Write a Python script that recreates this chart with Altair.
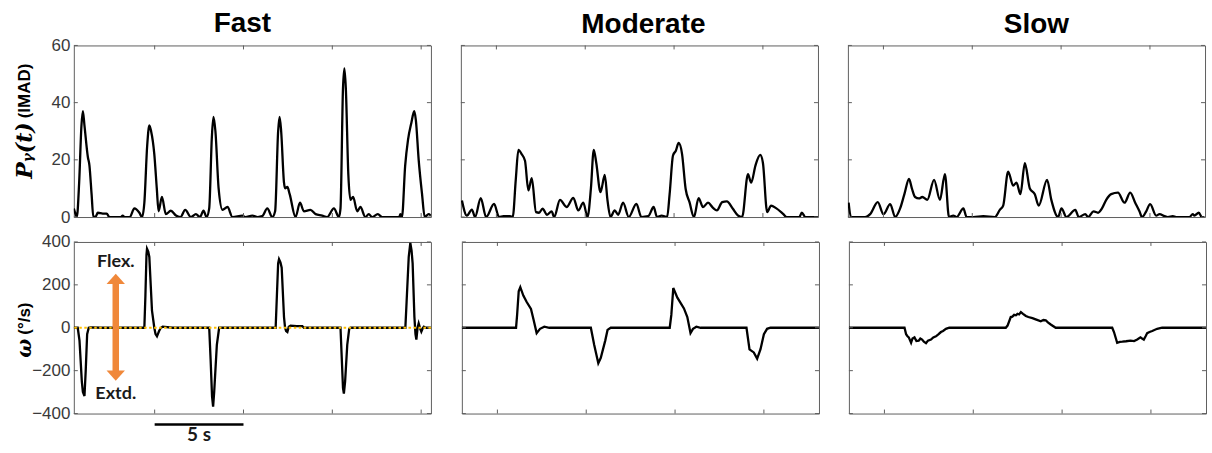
import altair as alt
import pandas as pd

# ---------------- data ----------------
# time windows (s) shown for each speed
FAST_DOMAIN = [0.45, 20.55]
SLOW_DOMAIN = [3.0, 23.1]
X_TICKS = [5, 10, 15, 20]

P_DOMAIN = [0, 60]
P_TICKS = [0, 20, 40, 60]
W_DOMAIN = [-400, 400]
W_TICKS = [-400, -200, 0, 200, 400]

SPEEDS = ["Fast", "Moderate", "Slow"]

# gamma-band power P_gamma(t), IMAD
fast_p_t = [0.45, 0.55, 0.62, 0.75, 0.88, 0.96, 1.05, 1.24, 1.33, 1.45, 1.55, 1.70, 1.80, 2.08, 2.30, 2.45,
            3.11, 3.20, 3.30, 3.60, 3.86, 4.14, 4.29, 4.42, 4.58, 4.70, 4.80, 4.98, 5.12, 5.22, 5.41, 5.63,
            5.91, 6.20, 6.45, 6.72, 7.04, 7.32, 7.55, 7.75, 7.92, 8.07, 8.22, 8.31, 8.42, 8.60, 8.82, 9.10,
            9.38, 9.94, 10.10, 10.50, 10.80, 11.06, 11.34, 11.62, 11.78, 11.95, 12.03, 12.12, 12.28, 12.34,
            12.47, 12.60, 12.93, 13.18, 13.40, 13.77, 14.06, 14.43, 14.71, 15.09, 15.37, 15.46, 15.60, 15.68,
            15.76, 15.90, 16.02, 16.17, 16.40, 16.58, 16.86, 17.05, 17.24, 17.56, 17.80, 18.77, 18.83, 18.88,
            18.92, 19.10, 19.26, 19.45, 19.61, 19.70, 19.86, 20.05, 20.20, 20.42, 20.55]
fast_p_v = [3, 1, 0, 12, 32, 37, 32, 21, 18, 8, 0, 0.3, 1.5, 1.2, 1.2, 0,
            0, 0.5, 0, 0, 3, 1.5, 0, 5, 25, 32, 30, 22, 10, 2, 7, 1,
            2.2, 0.5, 0, 2.5, 0, 1, 0, 2.2, 0, 3, 28, 35, 30, 10, 2.5, 3.5,
            0, 0.5, 0, 0.5, 0, 0.3, 3, 0, 2, 30, 35, 30, 12, 10,
            10.5, 8, 0, 5, 2, 2.5, 1, 0.5, 0, 3, 0, 3, 45, 52,
            45, 15, 6, 7, 2, 3.5, 0, 1, 0, 1, 0, 0, 1, 0,
            0, 18, 27, 33, 37, 34, 20, 8, 0, 1, 0.5]

mod_p_t = [3.06, 3.34, 3.62, 3.80, 4.12, 4.42, 4.87, 5.15, 5.40, 5.77,
           5.92, 6.09, 6.24, 6.42, 6.61, 6.80, 6.99, 7.23, 7.40, 7.60,
           7.85, 8.11, 8.25, 8.58, 8.95, 9.33, 9.61, 9.89, 10.13, 10.32,
           10.48, 10.62, 10.86, 11.10, 11.25, 11.42, 11.66, 11.85, 12.13, 12.45,
           12.88, 13.16, 13.55, 13.85, 14.04, 14.30, 14.61, 14.75, 14.94, 15.10,
           15.26, 15.45, 15.65, 15.87, 16.12, 16.38, 16.63, 16.91, 17.19, 17.41,
           17.71, 17.97, 18.31, 18.59, 18.83, 19.16, 19.34, 19.58, 19.85, 20.00,
           20.24, 20.46, 20.74, 21.12, 21.34, 22.05, 22.19, 22.39, 23.10]
mod_p_v = [5.8, 0.5, 2.6, 0, 6.6, 0, 4.6, 0, 0.3, 0.3,
           0, 13, 23.5, 22, 19.7, 9.3, 13.6, 1.7, 1.5, 2.9,
           0.8, 2, 0, 6, 3.5, 6.7, 2.3, 5, 0, 10,
           23.5, 19, 8.7, 14.7, 6, 0, 2.3, 0.8, 5, 0,
           4.6, 0, 0.3, 3.5, 0, 0.5, 0, 8, 21.5, 23.2,
           25.9, 22, 9.9, 5.2, 0, 6.6, 3.5, 5, 3.2, 2.3,
           5.2, 5.5, 2.9, 0.6, 0, 15, 12, 18, 21.7, 19,
           1.7, 4, 3.1, 1.2, 0, 0, 1.5, 0, 0]

slow_p_t = [3.04, 3.17, 3.97, 4.25, 4.68, 5.00, 5.38, 5.66, 5.94, 6.18,
            6.44, 6.60, 6.78, 7.00, 7.19, 7.47, 7.85, 8.18, 8.46, 8.69,
            8.93, 9.12, 9.50, 9.68, 10.06, 10.62, 11.27, 11.55, 11.74, 12.02,
            12.30, 12.49, 12.71, 12.96, 13.24, 13.52, 13.74, 14.21, 14.45, 14.83,
            15.02, 15.30, 15.80, 15.99, 16.36, 16.52, 16.83, 17.08, 17.30, 17.54,
            17.82, 18.20, 18.57, 18.89, 19.17, 19.41, 19.55, 19.79, 20.01, 20.35,
            20.54, 20.82, 21.01, 21.29, 21.47, 22.22, 22.41, 22.50, 22.75, 22.92,
            23.06]
slow_p_v = [5, 0, 0, 1, 5.2, 1, 4.5, 0, 3, 8,
            13.3, 10, 7, 6.5, 7, 6, 13, 6, 15, 0,
            0.5, 0, 3, 0, 0, 0.3, 0, 2.5, 4, 15.9,
            11, 12, 8, 18.8, 10, 8, 4, 13, 6, 0,
            3, 0, 2.5, 0, 1, 0, 2, 1.5, 3, 6,
            8, 8.5, 5, 8.5, 5, 2, 0, 2, 4.5, 0.5,
            1, 0.3, 0, 0.3, 0, 0, 1, 0.5, 1.5, 0,
            0]

# angular velocity omega, deg/s
fast_w_t = [0.45, 0.67, 0.77, 0.90, 0.96, 1.05, 1.12, 1.20, 1.29, 1.40, 2.00,
            4.42, 4.48, 4.54, 4.57, 4.64, 4.70, 4.85, 4.98, 5.05, 5.13, 5.25, 5.35, 5.45, 6.00,
            8.07, 8.15, 8.23, 8.29, 8.35, 8.50, 8.63,
            11.81, 11.88, 11.95, 12.00, 12.08, 12.15, 12.28, 12.34, 12.40, 12.47, 12.55, 12.65, 13.00,
            13.31, 13.40,
            15.46, 15.52, 15.60, 15.65, 15.72, 15.84, 15.95, 16.02,
            19.11, 19.18, 19.30, 19.39, 19.46, 19.52, 19.62, 19.68, 19.73, 19.80, 19.86, 19.95, 20.01,
            20.10, 20.15, 20.25, 20.55]
fast_w_v = [0, 0, -60, -250, -300, -318, -200, -30, 0, 2, 0,
            0, 150, 340, 368, 355, 330, 80, 0, -30, -40, -15, 0, 5, 0,
            0, -150, -320, -368, -300, -80, 0,
            0, 150, 300, 320, 305, 280, 50, 0, -15, -20, 5, 10, 8,
            8, 0,
            0, -120, -280, -307, -250, -80, -5, 0,
            0, 120, 330, 396, 360, 300, 50, -30, -55, 0, 20, -5, -18,
            0, 5, 0, 0]

mod_w_t = [3.0, 6.05, 6.11, 6.20, 6.29, 6.46, 6.65, 6.89, 7.03, 7.21,
           7.40, 7.64, 7.92, 10.26, 10.45, 10.68, 10.82, 11.07, 11.20, 11.38,
           14.70, 14.79, 14.90, 15.13, 15.50, 15.69, 15.87, 16.01, 16.20, 16.44,
           19.02, 19.19, 19.43, 19.62, 19.81, 20.00, 20.18, 20.37, 23.10]
mod_w_v = [0, 0, 60, 170, 189, 150, 120, 88, 40, -25,
           -5, 5, 0, 0, -80, -165, -140, -60, -10, 0,
           0, 60, 185, 140, 90, 50, -25, -5, 5, 0,
           0, -101, -115, -144, -100, -30, -5, 0, 0]

slow_w_t = [3.0, 6.13, 6.22, 6.30, 6.37, 6.50, 6.58, 6.69, 6.80, 6.93, 7.02, 7.12, 7.22, 7.34, 7.45,
            7.62, 7.75, 7.90, 8.05, 8.18, 8.30, 8.46, 8.65,
            11.83, 11.93, 12.11, 12.20, 12.30, 12.40, 12.49, 12.58, 12.68, 12.80, 12.96, 13.10, 13.33,
            13.55, 13.80, 13.95, 14.08, 14.20, 14.36, 14.64,
            17.82, 17.92, 18.10, 18.25, 18.39, 18.60, 18.85, 19.05, 19.23, 19.41, 19.50, 19.60, 19.70,
            19.79, 19.92, 20.07, 20.35, 20.63, 23.10]
slow_w_v = [0, 0, -30, -40, -45, -70, -50, -45, -62, -60, -50, -55, -65, -72, -60,
            -55, -45, -40, -30, -20, -15, -5, 0,
            0, 10, 50, 52, 60, 58, 65, 62, 73, 65, 55, 50, 45,
            38, 30, 36, 35, 25, 15, 0,
            0, -20, -70, -66, -65, -63, -60, -62, -55, -45, -50, -55, -40,
            -25, -20, -15, -5, 0, 0]

# flexion / extension annotation (fast panel)
ARROW_T = 2.81
ARROW_HEADS = [228, -223]
ARROW_SHAFT = [-215, 220]
DIR_LABELS = ["Flex.", "Extd."]
DIR_LABEL_V = [284, -330]
SCALE_BAR = [5, 10]
SCALE_LABEL = "5 s"

# ---------------- styling ----------------
W, H = 358, 172
TICK = 4
FRAME = "#5f5f5f"
ORANGE = "#F0883A"
GOLD = "#FFC000"
LABEL_FONT = "Liberation Sans"
ANNOT_FONT = "Lato"
UP_PATH = "M-1,0.55L0,-0.55L1,0.55Z"
DOWN_PATH = "M-1,-0.55L0,0.55L1,-0.55Z"


def x_enc(dom):
    return alt.X("t:Q", scale=alt.Scale(domain=dom, nice=False, zero=False), axis=None)


def y_enc(dom, axis):
    return alt.Y("v:Q", scale=alt.Scale(domain=dom, nice=False, zero=False), axis=axis)


def panel(t, v, xdom, ydom, yticks, interp, left=False, title=None, title_dx=0, title_offset=6, extras=()):
    if left:
        axis = alt.Axis(values=yticks, ticks=False, tickSize=0, domain=False, grid=False,
                        labelPadding=4, title=None, labelFont=LABEL_FONT, labelFontSize=17,
                        labelColor="#3a3a3a")
    else:
        axis = None
    xe = x_enc(xdom)
    ye = y_enc(ydom, axis)

    line = alt.Chart(pd.DataFrame({"t": t, "v": v})).mark_line(
        color="black", strokeWidth=2.3, interpolate=interp, clip=True
    ).encode(x=xe, y=ye)

    ytk = pd.DataFrame({"v": yticks})
    xtk = pd.DataFrame({"t": X_TICKS})
    ticks = [
        alt.Chart(ytk).mark_rule(color=FRAME, strokeWidth=1).encode(y=ye, x=alt.value(0), x2=alt.value(TICK)),
        alt.Chart(ytk).mark_rule(color=FRAME, strokeWidth=1).encode(y=ye, x=alt.value(W - TICK), x2=alt.value(W)),
        alt.Chart(xtk).mark_rule(color=FRAME, strokeWidth=1).encode(x=xe, y=alt.value(0), y2=alt.value(TICK)),
        alt.Chart(xtk).mark_rule(color=FRAME, strokeWidth=1).encode(x=xe, y=alt.value(H - TICK), y2=alt.value(H)),
    ]
    layers = [line] + ticks + [e(xe, ye) for e in extras]
    props = dict(width=W, height=H)
    if title:
        props["title"] = alt.TitleParams(title, fontSize=28, font=LABEL_FONT, fontWeight="bold",
                                         color="black", anchor="middle", frame="group",
                                         offset=title_offset, dx=title_dx)
    return alt.layer(*layers).properties(**props)


one = pd.DataFrame({"a": [0]})


def p_title(xe, ye):
    math = alt.Chart(one).mark_text(text="Pᵧ(t)", angle=270, align="right", baseline="middle",
                                    font="DejaVu Serif", fontStyle="italic", fontWeight="bold",
                                    fontSize=22, color="black").encode(x=alt.value(-49), y=alt.value(77))
    unit = alt.Chart(one).mark_text(text="(IMAD)", angle=270, align="left", baseline="middle",
                                    font=LABEL_FONT, fontWeight="bold", fontSize=17,
                                    color="black").encode(x=alt.value(-49), y=alt.value(73))
    return alt.layer(math, unit)


def w_title(xe, ye):
    sym = alt.Chart(one).mark_text(text="ω", angle=270, align="right", baseline="middle",
                                   font="DejaVu Serif", fontStyle="italic", fontWeight="bold",
                                   fontSize=20, color="black").encode(x=alt.value(-49), y=alt.value(97))
    unit = alt.Chart(one).mark_text(text="(°/s)", angle=270, align="left", baseline="middle",
                                    font=LABEL_FONT, fontWeight="bold", fontSize=17,
                                    color="black").encode(x=alt.value(-49), y=alt.value(93))
    return alt.layer(sym, unit)


def zero_line(xe, ye):
    return alt.Chart(pd.DataFrame({"v": [0]})).mark_rule(
        color=GOLD, strokeDash=[2.5, 2.5], strokeWidth=2.2
    ).encode(y=ye)


def flex_arrow(xe, ye):
    shaft = alt.Chart(pd.DataFrame({"t": [ARROW_T], "v": [ARROW_SHAFT[0]], "v2": [ARROW_SHAFT[1]]})).mark_rule(
        color=ORANGE, strokeWidth=6.5
    ).encode(x=xe, y=ye, y2="v2:Q")
    heads = alt.Chart(pd.DataFrame({"t": [ARROW_T, ARROW_T], "v": ARROW_HEADS, "d": ["up", "down"]})).mark_point(
        filled=True, opacity=1, size=340, color=ORANGE, strokeWidth=0
    ).encode(x=xe, y=ye, shape=alt.Shape("d:N", scale=alt.Scale(domain=["up", "down"], range=[UP_PATH, DOWN_PATH]),
                                           legend=None))
    labels = alt.Chart(pd.DataFrame({"t": [ARROW_T] * 2, "v": DIR_LABEL_V, "s": DIR_LABELS})).mark_text(
        font=ANNOT_FONT, fontWeight="bold", fontSize=18, baseline="alphabetic", align="center", color="#1a1a1a"
    ).encode(x=xe, y=ye, text="s:N")
    return alt.layer(shaft, heads, labels)


def scale_bar(xe, ye):
    bar = alt.Chart(pd.DataFrame({"t": [SCALE_BAR[0]], "t2": [SCALE_BAR[1]]})).mark_rule(
        color="black", strokeWidth=2.5
    ).encode(x=xe, x2="t2:Q", y=alt.value(H + 11))
    txt = alt.Chart(pd.DataFrame({"t": [sum(SCALE_BAR) / 2]})).mark_text(
        text=SCALE_LABEL, font=ANNOT_FONT, fontWeight="bold", fontSize=19, baseline="alphabetic",
        align="center", color="#1a1a1a"
    ).encode(x=xe, y=alt.value(H + 28))
    return alt.layer(bar, txt)


top = alt.hconcat(
    panel(fast_p_t, fast_p_v, FAST_DOMAIN, P_DOMAIN, P_TICKS, "monotone", left=True,
          title=SPEEDS[0], title_dx=-10, title_offset=-2, extras=[p_title]),
    panel(mod_p_t, mod_p_v, SLOW_DOMAIN, P_DOMAIN, P_TICKS, "monotone", title=SPEEDS[1], title_dx=4),
    panel(slow_p_t, slow_p_v, SLOW_DOMAIN, P_DOMAIN, P_TICKS, "monotone", title=SPEEDS[2], title_dx=10),
    spacing=28,
)
bottom = alt.hconcat(
    panel(fast_w_t, fast_w_v, FAST_DOMAIN, W_DOMAIN, W_TICKS, "linear", left=True,
          extras=[w_title, zero_line, flex_arrow, scale_bar]),
    panel(mod_w_t, mod_w_v, SLOW_DOMAIN, W_DOMAIN, W_TICKS, "linear"),
    panel(slow_w_t, slow_w_v, SLOW_DOMAIN, W_DOMAIN, W_TICKS, "linear"),
    spacing=28,
)

chart = alt.vconcat(top, bottom, spacing=6).properties(
    padding={"left": 13, "top": 9, "right": 5, "bottom": 5},
    background="white",
).configure_view(stroke=FRAME, strokeWidth=1)

chart.save("out.html", embed_options={"renderer": "svg", "actions": False})
